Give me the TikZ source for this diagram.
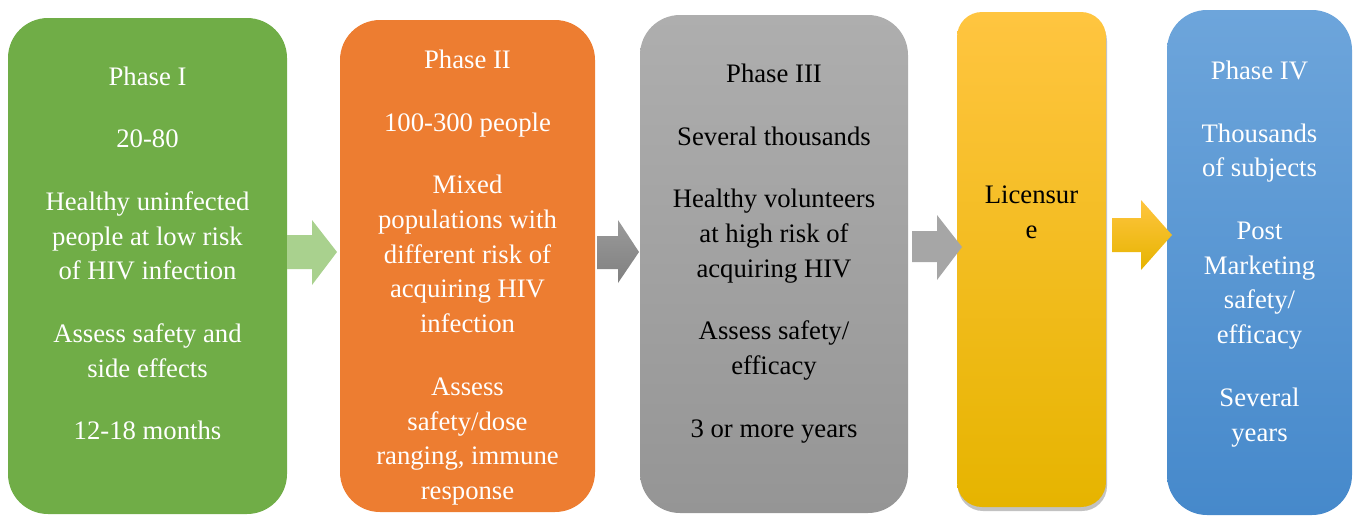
\documentclass[tikz,border=0pt]{standalone}
\usepackage{fontspec}
\setmainfont{Liberation Serif}
\usetikzlibrary{shadows}
\definecolor{cgreen}{HTML}{70AD47}
\definecolor{corange}{HTML}{ED7D31}
\definecolor{cgraytop}{HTML}{AEAEAE}
\definecolor{cgraybot}{HTML}{959595}
\definecolor{cyeltop}{HTML}{FFC540}
\definecolor{cyelbot}{HTML}{E6B400}
\definecolor{cbluetop}{HTML}{6DA5DB}
\definecolor{cbluebot}{HTML}{4689CB}
\definecolor{carrgreen}{HTML}{A9D18E}
\definecolor{carrgtop}{HTML}{9A9A9A}
\definecolor{carrgbot}{HTML}{808080}
\definecolor{carrlgray}{HTML}{A6A6A6}
\begin{document}
\begin{tikzpicture}[x=1pt,y=-1pt,
  box/.style={rectangle, rounded corners=40pt, draw=none, inner sep=0pt},
  txt/.style={font=\fontsize{26.7}{34.8}\selectfont, align=center, inner sep=0pt, anchor=north},
  wtxt/.style={txt, text=white},
  btxt/.style={txt, text=black}]
\useasboundingbox (0,0) rectangle (1355,515);
% boxes
\node[box, fill=cgreen, minimum width=279pt, minimum height=496pt] (b1) at (147.5,266) {};
\node[box, fill=corange, minimum width=255pt, minimum height=492pt] (b2) at (467.5,266) {};
\node[box, top color=cgraytop, bottom color=cgraybot, minimum width=268pt, minimum height=498pt] (b3) at (774,264) {};
\node[box, rounded corners=25pt, top color=cyeltop, bottom color=cyelbot, minimum width=149pt, minimum height=495pt,
  drop shadow={shadow xshift=1pt, shadow yshift=-4pt, opacity=0.4, fill=black!60}] (b4) at (1031.5,259.5) {};
\node[box, top color=cbluetop, bottom color=cbluebot, minimum width=185pt, minimum height=505pt] (b5) at (1259.5,262.5) {};
% arrows
\fill[carrgreen] (287,235) -- (312,235) -- (312,220) -- (337,252) -- (312,285) -- (312,269) -- (287,269) -- cycle;
\shade[top color=carrgtop, bottom color=carrgbot] (597,236) -- (618,236) -- (618,220) -- (639,252) -- (618,283) -- (618,269) -- (597,269) -- cycle;
\fill[carrlgray] (912,231) -- (937,231) -- (937,215) -- (962,247) -- (937,280) -- (937,262) -- (912,262) -- cycle;
\shade[top color=cyeltop, bottom color=cyelbot] (1112,218) -- (1141,218) -- (1141,200) -- (1172,235) -- (1141,270) -- (1141,252) -- (1112,252) -- cycle;
% texts
\node[wtxt] (t1) at (147.5,60.8) {\strut Phase I\\[27.7pt]20-80\\[27.7pt]Healthy uninfected\\people at low risk\\of HIV infection\\[27.7pt]Assess safety and\\side effects\\[27.7pt]12-18 months};
\node[wtxt] (t2) at (467.5,44) {\strut Phase II\\[27.7pt]100-300 people\\[27.7pt]Mixed\\populations with\\different risk of\\acquiring HIV\\infection\\[27.7pt]Assess\\safety/dose\\ranging, immune\\response};
\node[btxt] (t3) at (774,58.2) {\strut Phase III\\[27.7pt]Several thousands\\[27.7pt]Healthy volunteers\\at high risk of\\acquiring HIV\\[27.7pt]Assess safety/\\efficacy\\[27.7pt]3 or more years};
\node[btxt] (t4) at (1031.5,178.8) {\strut Licensur\\e};
\node[wtxt] (t5) at (1259.5,55) {\strut Phase IV\\[27.7pt]Thousands\\of subjects\\[27.7pt]Post\\Marketing\\safety/\\efficacy\\[27.7pt]Several\\years};
\end{tikzpicture}
\end{document}
